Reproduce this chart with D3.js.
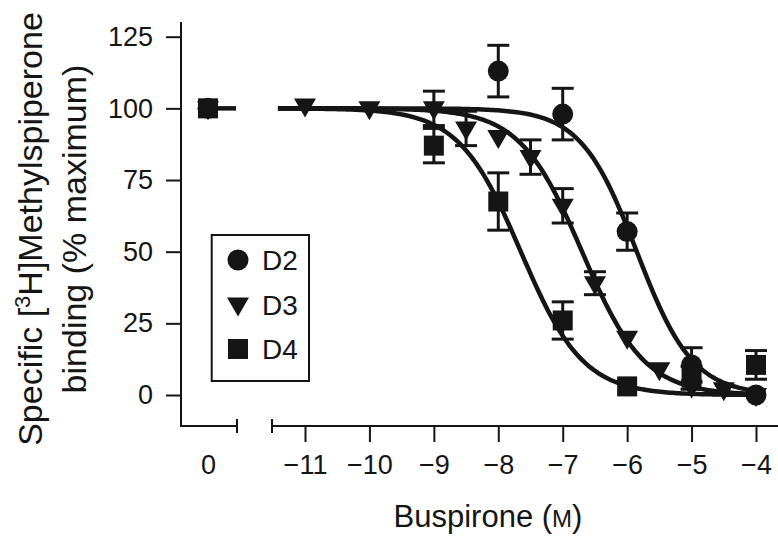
<!DOCTYPE html>
<html><head><meta charset="utf-8">
<script src="https://cdn.jsdelivr.net/npm/d3@7"></script>
<style>
html,body{margin:0;padding:0;background:#fff;}
svg{display:block;font-family:"Liberation Sans",Arial,sans-serif;}
</style></head>
<body>
<svg id="chart" width="778" height="538"></svg>
<script>
// ---- data ----
const xTicks = [-11, -10, -9, -8, -7, -6, -5, -4];
const yTicks = [0, 25, 50, 75, 100, 125];
const seriesNames = ["D2", "D3", "D4"];
const seriesShapes = ["circle", "triangle", "square"];

const d2X = [0, -8, -7, -6, -5, -4];
const d2Y = [100, 113, 98, 57, 10.5, 0];
const d2Err = [0, 9, 9, 6.5, 6, 0];

const d3X = [0, -11, -10, -9, -8.5, -8, -7.5, -7, -6.5, -6, -5.5, -5, -4.5, -4];
const d3Y = [100, 101, 100, 100, 93, 90, 83, 66, 39, 20, 9, 3, 2, 0];
const d3Err = [0, 0, 0, 6, 6, 0, 6, 6, 4, 0, 0, 0, 0, 0];

const d4X = [0, -9, -8, -7, -6, -5, -4];
const d4Y = [100, 87, 67.5, 26, 3, 6, 10.5];
const d4Err = [0, 6, 10, 6.5, 0, 4, 5];

// fitted sigmoid parameters (one per series)
const fitLogIC50 = [-5.85, -6.7, -7.65];
const fitHill = [1.0, 0.9, 0.9];
const fitTop = [100, 100, 100];
const fitBottom = [0, 0, 0];
const fitRange = [-11.42, -4];

// ---- build ----
const seriesX = [d2X, d3X, d4X], seriesY = [d2Y, d3Y, d4Y], seriesE = [d2Err, d3Err, d4Err];
const svg = d3.select("#chart");
const ink = "#151515";

const yAxisX = 181, xAxisY = 426;
const y = d3.scaleLinear().domain([0, 125]).range([395, 36.7]);
const xMain = d3.scaleLinear().domain([-11, -4]).range([305, 756]);
const xLeft = d3.scaleLinear().domain([-1, 1]).range([181, 235]);
const px = v => v === 0 ? xLeft(0) : xMain(v);

// y axis
const yAxis = d3.axisLeft(y).tickValues(yTicks).tickSize(15).tickPadding(13).tickSizeOuter(0);
const gy = svg.append("g").attr("transform", `translate(${yAxisX},0)`).call(yAxis);
gy.select(".domain").remove();
gy.selectAll(".tick line").attr("stroke", ink).attr("stroke-width", 2);
gy.selectAll(".tick text").attr("font-size", 27).attr("fill", ink).attr("font-family", "Liberation Sans, Arial, sans-serif");
svg.append("line").attr("x1", yAxisX).attr("x2", yAxisX).attr("y1", 22).attr("y2", xAxisY + 1)
  .attr("stroke", ink).attr("stroke-width", 2);

// x axis: left (zero) segment
const gx0 = svg.append("g").attr("transform", `translate(0,${xAxisY})`)
  .call(d3.axisBottom(xLeft).tickValues([0]).tickSize(0).tickPadding(29).tickFormat(d3.format("d")));
gx0.select(".domain").remove();
gx0.selectAll(".tick text").attr("font-size", 27).attr("fill", ink).attr("font-family", "Liberation Sans, Arial, sans-serif");
svg.append("line").attr("x1", yAxisX).attr("x2", xLeft(1) + 2).attr("y1", xAxisY).attr("y2", xAxisY)
  .attr("stroke", ink).attr("stroke-width", 2);
svg.append("line").attr("x1", xLeft(1) + 2).attr("x2", xLeft(1) + 2).attr("y1", xAxisY - 7).attr("y2", xAxisY + 7)
  .attr("stroke", ink).attr("stroke-width", 2);

// x axis: main segment
const fmt = d => (d < 0 ? "\u2212" : "") + Math.abs(d);
const gx = svg.append("g").attr("transform", `translate(0,${xAxisY})`)
  .call(d3.axisBottom(xMain).tickValues(xTicks).tickSize(16).tickPadding(13).tickSizeOuter(0).tickFormat(fmt));
gx.select(".domain").remove();
gx.selectAll(".tick line").attr("stroke", ink).attr("stroke-width", 2);
gx.selectAll(".tick text").attr("font-size", 27).attr("fill", ink).attr("font-family", "Liberation Sans, Arial, sans-serif");
svg.append("line").attr("x1", 272).attr("x2", 778).attr("y1", xAxisY).attr("y2", xAxisY)
  .attr("stroke", ink).attr("stroke-width", 2);
svg.append("line").attr("x1", 272).attr("x2", 272).attr("y1", xAxisY - 7).attr("y2", xAxisY + 7)
  .attr("stroke", ink).attr("stroke-width", 2);

// axis titles
const xt = svg.append("text").attr("x", 488).attr("y", 527).attr("text-anchor", "middle")
  .attr("font-size", 31).attr("fill", ink);
xt.append("tspan").text("Buspirone (");
xt.append("tspan").attr("font-size", 24).text("M");
xt.append("tspan").text(")");

const yt = svg.append("text").attr("transform", "translate(42,229) rotate(-90)")
  .attr("text-anchor", "middle").attr("font-size", 34).attr("fill", ink);
yt.append("tspan").text("Specific [");
yt.append("tspan").attr("font-size", 22).attr("dy", -12).text("3");
yt.append("tspan").attr("dy", 12).text("H]Methylspiperone");
svg.append("text").attr("transform", "translate(86,229) rotate(-90)")
  .attr("text-anchor", "middle").attr("font-size", 34).attr("fill", ink)
  .text("binding (% maximum)");

// fitted curves
const curveG = svg.append("g");
const nSteps = 200;
seriesNames.forEach((name, i) => {
  const xs = d3.range(nSteps + 1).map(k => fitRange[0] + (fitRange[1] - fitRange[0]) * k / nSteps);
  const pts = xs.map(xv => [xv, fitBottom[i] + (fitTop[i] - fitBottom[i]) / (1 + Math.pow(10, (xv - fitLogIC50[i]) * fitHill[i]))]);
  curveG.append("path").datum(pts)
    .attr("d", d3.line().x(d => xMain(d[0])).y(d => y(d[1])))
    .attr("fill", "none").attr("stroke", ink).attr("stroke-width", 4.5);
});
// zero-dose segment line
curveG.append("line").attr("x1", xLeft(0)).attr("x2", xLeft(1) + 1).attr("y1", y(100)).attr("y2", y(100))
  .attr("stroke", ink).attr("stroke-width", 4.5);

// markers
function drawShape(g, shape, cx, cy) {
  if (shape === "circle") {
    g.append("circle").attr("cx", cx).attr("cy", cy).attr("r", 10.5).attr("fill", ink);
  } else if (shape === "triangle") {
    g.append("path").attr("d", `M${cx - 11},${cy - 7} L${cx + 11},${cy - 7} L${cx},${cy + 12} Z`).attr("fill", ink);
  } else {
    g.append("rect").attr("x", cx - 10).attr("y", cy - 10).attr("width", 20).attr("height", 20).attr("fill", ink);
  }
}
const markG = svg.append("g");
seriesNames.forEach((name, i) => {
  const g = markG.append("g");
  seriesX[i].forEach((xv, j) => {
    const cx = px(xv), cy = y(seriesY[i][j]), e = seriesE[i][j];
    if (e > 0) {
      const t = y(seriesY[i][j] + e), b = y(seriesY[i][j] - e);
      g.append("line").attr("x1", cx).attr("x2", cx).attr("y1", t).attr("y2", b).attr("stroke", ink).attr("stroke-width", 3);
      [t, b].forEach(yy => g.append("line").attr("x1", cx - 11).attr("x2", cx + 11).attr("y1", yy).attr("y2", yy)
        .attr("stroke", ink).attr("stroke-width", 3));
    }
    drawShape(g, seriesShapes[i], cx, cy);
  });
});

// legend
const lg = svg.append("g");
lg.append("rect").attr("x", 211.7).attr("y", 235).attr("width", 97.3).attr("height", 146)
  .attr("fill", "#fff").attr("stroke", ink).attr("stroke-width", 2);
seriesNames.forEach((name, i) => {
  const cy = 260 + i * 44.5;
  drawShape(lg, seriesShapes[i], 238, cy);
  lg.append("text").attr("x", 262).attr("y", cy).attr("dy", "0.36em").attr("font-size", 28).attr("fill", ink).text(name);
});
</script>
</body></html>
